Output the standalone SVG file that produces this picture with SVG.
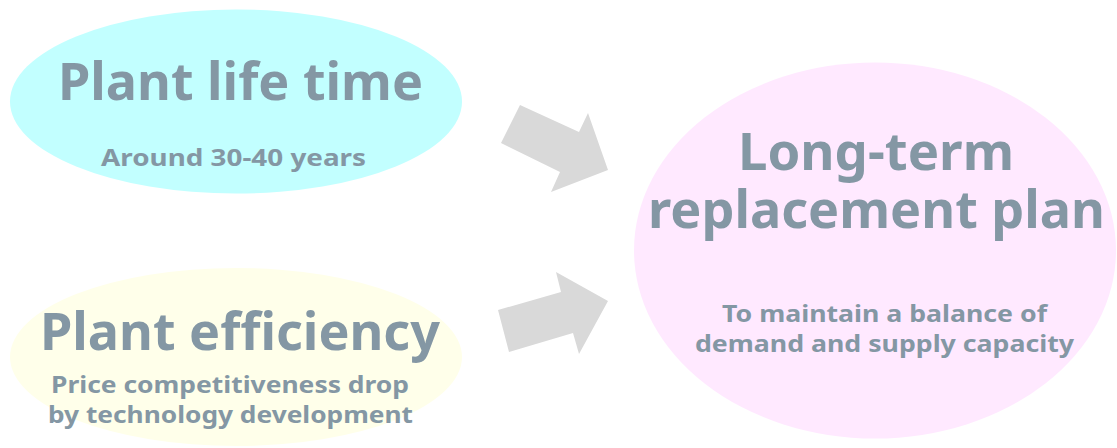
<svg xmlns="http://www.w3.org/2000/svg" width="1117" height="448" viewBox="0 0 1117 448">
<style>
.t{font-family:"Noto Sans","DejaVu Sans",sans-serif;font-weight:bold;fill:#8497A4;text-anchor:middle}
.big{font-size:52px}
.small{font-size:24px}
.arrow{fill:#D9D9D9}
</style>
<rect width="1117" height="448" fill="#FFFFFF"/>
<g id="node-lifetime">
<ellipse cx="236" cy="101.5" rx="226" ry="92" fill="#C2FFFF"/>
<text class="t big" x="240.5" y="100" textLength="365" lengthAdjust="spacingAndGlyphs">Plant life time</text>
<text class="t small" x="233.5" y="166" textLength="265" lengthAdjust="spacingAndGlyphs">Around 30-40 years</text>
</g>
<g id="node-efficiency">
<ellipse cx="236" cy="357" rx="226" ry="89" fill="#FFFFEA"/>
<text class="t big" x="240" y="350" textLength="400" lengthAdjust="spacingAndGlyphs">Plant efficiency</text>
<text class="t small" x="230" y="393" textLength="358" lengthAdjust="spacingAndGlyphs">Price competitiveness drop</text>
<text class="t small" x="230.5" y="423" textLength="365" lengthAdjust="spacingAndGlyphs">by technology development</text>
</g>
<g id="node-plan">
<ellipse cx="875" cy="250.5" rx="241" ry="188" fill="#FFE9FF"/>
<text class="t big" x="876" y="170" textLength="276" lengthAdjust="spacingAndGlyphs">Long-term</text>
<text class="t big" x="876.5" y="228" textLength="457" lengthAdjust="spacingAndGlyphs">replacement plan</text>
<text class="t small" x="884.5" y="322" textLength="325" lengthAdjust="spacingAndGlyphs">To maintain a balance of</text>
<text class="t small" x="884.5" y="352" textLength="379" lengthAdjust="spacingAndGlyphs">demand and supply capacity</text>
</g>
<g id="connectors">
<polygon class="arrow" points="501,143 520,105 579,132 588,113 608,170 551,192 560,172"/>
<polygon class="arrow" points="498,310 561,292 556,272 608,301 579,354 573,333 509,352"/>
</g>
</svg>
